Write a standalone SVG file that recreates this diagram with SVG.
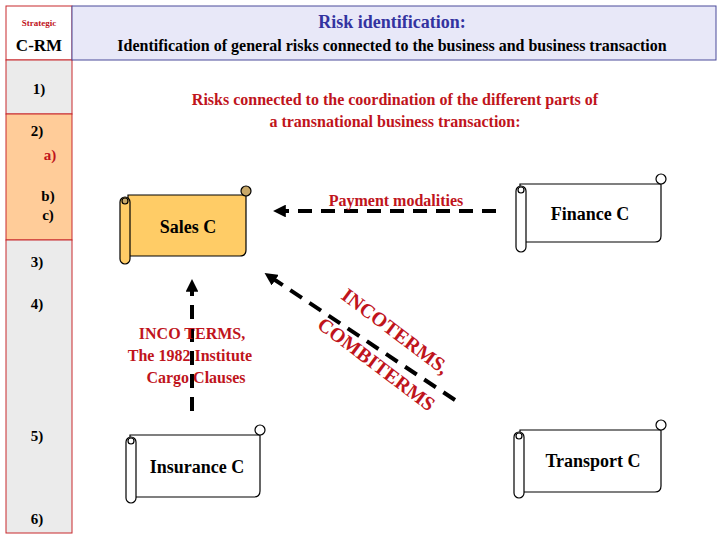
<svg xmlns="http://www.w3.org/2000/svg" width="720" height="540" viewBox="0 0 720 540" font-family="'Liberation Serif','DejaVu Serif',serif">
<style>
text{font-family:'Liberation Serif','DejaVu Serif',serif;font-weight:bold}
.sb{font-size:15px;fill:#000;text-anchor:middle}
.red{fill:#c0141c}
.lbl{font-size:18px;text-anchor:middle}
.scroll path,.scroll rect,.scroll circle{stroke:#000;stroke-width:1.2}
.dash{stroke:#000;stroke-width:4;stroke-dasharray:14,9;fill:none}
</style>
<defs>
<marker id="ah" viewBox="0 0 10 10" refX="3" refY="5" markerWidth="3.2" markerHeight="3.2" orient="auto"><path d="M0,0 L10,5 L0,10 z" fill="#000"/></marker>
</defs>
<rect width="720" height="540" fill="#fff"/>
<g id="sidebar">
<rect x="6" y="6" width="66" height="54" fill="#fff" stroke="#c8282d"/>
<rect x="6" y="60" width="66" height="54" fill="#ebebeb" stroke="#c8282d"/>
<rect x="6" y="114" width="66" height="126" fill="#ffcc99" stroke="#c8282d"/>
<rect x="6" y="240" width="66" height="293" fill="#ebebeb" stroke="#c8282d"/>
<text x="39" y="26" style="font-size:9px" text-anchor="middle" class="red">Strategic</text>
<text x="39" y="51" style="font-size:17px" text-anchor="middle">C-RM</text>
<text x="39" y="94" class="sb">1)</text>
<text x="37" y="136" class="sb">2)</text>
<text x="50" y="160" class="sb red">a)</text>
<text x="48" y="201" class="sb">b)</text>
<text x="48" y="220" class="sb">c)</text>
<text x="37" y="267" class="sb">3)</text>
<text x="37" y="309" class="sb">4)</text>
<text x="37" y="441" class="sb">5)</text>
<text x="37" y="524" class="sb">6)</text>
</g>
<g id="header">
<rect x="72" y="6" width="644" height="54" fill="#e8e8f8" stroke="#4a4a9a"/>
<text x="392" y="28" style="font-size:18px;fill:#3333a0" text-anchor="middle">Risk identification:</text>
<text x="392" y="51" style="font-size:16px" text-anchor="middle">Identification of general risks connected to the business and business transaction</text>
</g>
<g id="intro" style="font-size:16px" text-anchor="middle">
<text x="395" y="105" class="red">Risks connected to the coordination of the different parts of</text>
<text x="395" y="127" class="red">a transnational business transaction:</text>
</g>
<g id="connectors">
<line x1="496" y1="211" x2="282" y2="211" class="dash" marker-end="url(#ah)"/>
<line x1="192" y1="411" x2="192" y2="288" class="dash" marker-end="url(#ah)"/>
<line x1="455" y1="400" x2="272" y2="278" class="dash" marker-end="url(#ah)"/>
<text x="396" y="206" class="red" style="font-size:16px" text-anchor="middle">Payment modalities</text>
<g style="font-size:16px" text-anchor="middle">
<text x="192" y="339" class="red">INCO TERMS,</text>
<text x="190" y="361" class="red">The 1982 Institute</text>
<text x="196" y="383" class="red">Cargo  Clauses</text>
</g>
<text transform="translate(340,298) rotate(37)" class="red" style="font-size:20px">INCOTERMS,</text>
<text transform="translate(316,327) rotate(37)" class="red" style="font-size:20px">COMBITERMS</text>
</g>
<g id="sales" class="scroll">
<path d="M128,195 H246 V250 Q246,256 240,256 H128 Z" fill="#ffcc66"/>
<circle cx="246" cy="191" r="5" fill="#c8a868"/>
<rect x="120" y="197" width="10" height="67" rx="5" fill="#ffcc66"/>
<circle cx="125" cy="201" r="3" fill="#c8a868"/>
<text x="188" y="233" class="lbl">Sales C</text>
</g>
<g id="finance" class="scroll">
<path d="M520,184 H661 V236 Q661,242 655,242 H520 Z" fill="#fff"/>
<circle cx="661" cy="179" r="5" fill="#fff"/>
<rect x="516" y="186" width="10" height="66" rx="5" fill="#fff"/>
<circle cx="521" cy="190" r="3" fill="#fff"/>
<text x="590" y="220" class="lbl">Finance C</text>
</g>
<g id="insurance" class="scroll">
<path d="M130,435 H260 V491 Q260,497 254,497 H130 Z" fill="#fff"/>
<circle cx="260" cy="430" r="5" fill="#fff"/>
<rect x="126" y="437" width="10" height="66" rx="5" fill="#fff"/>
<circle cx="131" cy="441" r="3" fill="#fff"/>
<text x="197" y="473" class="lbl">Insurance C</text>
</g>
<g id="transport" class="scroll">
<path d="M520,430 H661 V486 Q661,492 655,492 H520 Z" fill="#fff"/>
<circle cx="661" cy="425" r="5" fill="#fff"/>
<rect x="514" y="432" width="10" height="66" rx="5" fill="#fff"/>
<circle cx="519" cy="436" r="3" fill="#fff"/>
<text x="593" y="467" class="lbl">Transport C</text>
</g>
</svg>
